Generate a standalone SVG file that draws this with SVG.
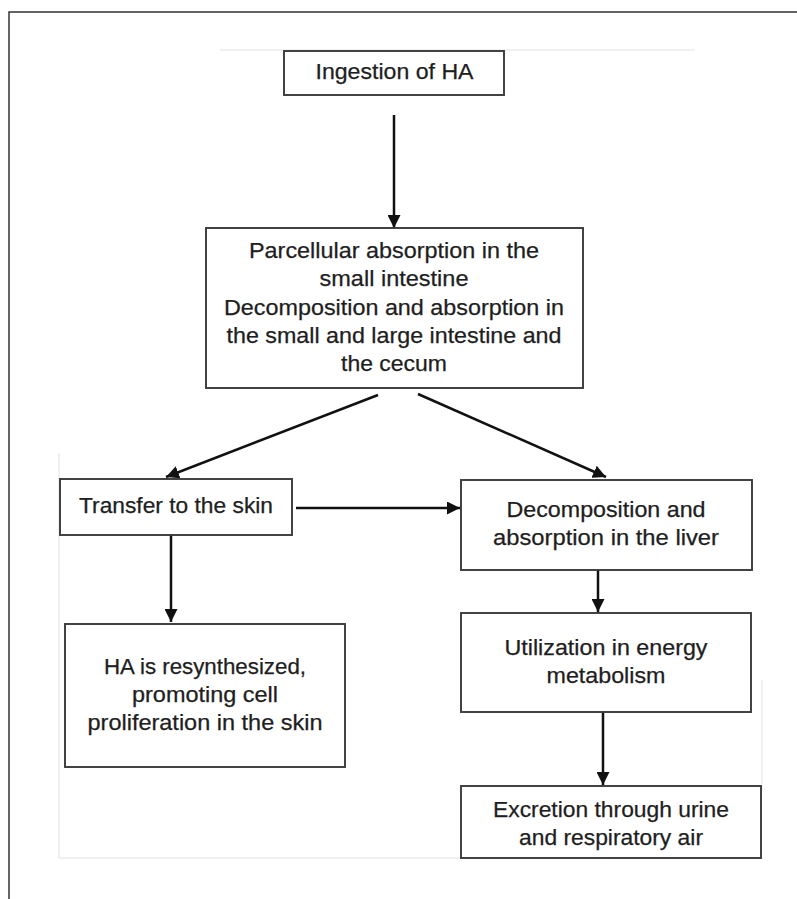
<svg xmlns="http://www.w3.org/2000/svg" width="797" height="899" viewBox="0 0 797 899">
  <style>
    .box { fill: #ffffff; stroke: #3a3a3a; stroke-width: 1.9; }
    .lbl { font-family: "Liberation Sans", Arial, sans-serif; font-size: 21.5px; fill: #1e1e1e; stroke: #1e1e1e; stroke-width: 0.25; text-anchor: middle; }
    .conn { stroke: #111111; stroke-width: 2.5; fill: none; marker-end: url(#arrow); }
    .faint { stroke: #ececec; stroke-width: 1.5; fill: none; }
  </style>
  <defs>
    <marker id="arrow" markerUnits="userSpaceOnUse" markerWidth="13" markerHeight="13" refX="13" refY="6.5" orient="auto">
      <path d="M0,0 L13,6.5 L0,13 z" fill="#111111"/>
    </marker>
  </defs>
  <rect x="0" y="0" width="797" height="899" fill="#ffffff"/>
  <path d="M9,899 V12 H797" fill="none" stroke="#333333" stroke-width="1.5"/>
  <g id="artifacts">
    <path class="faint" d="M220,50 H695"/>
    <path class="faint" d="M59,453 V858 H461"/>
    <path class="faint" d="M762,680 V790"/>
  </g>
  <g id="connectors">
    <line class="conn" x1="394" y1="115" x2="394" y2="228"/>
    <line class="conn" x1="378" y1="395" x2="166" y2="477"/>
    <line class="conn" x1="418" y1="394" x2="606" y2="477"/>
    <line class="conn" x1="296" y1="508" x2="460" y2="508"/>
    <line class="conn" x1="171" y1="535" x2="171" y2="622"/>
    <line class="conn" x1="598" y1="570" x2="598" y2="612"/>
    <line class="conn" x1="603" y1="712" x2="603" y2="785"/>
  </g>
  <g id="ingestion">
    <rect class="box" x="284" y="51" width="220" height="44"/>
    <text class="lbl" x="394.5" y="79" textLength="158" lengthAdjust="spacingAndGlyphs">Ingestion of HA</text>
  </g>
  <g id="absorption-intestine">
    <rect class="box" x="206" y="228" width="377" height="160"/>
    <text class="lbl" x="394" y="258" textLength="290" lengthAdjust="spacingAndGlyphs">Parcellular absorption in the</text>
    <text class="lbl" x="394" y="286" textLength="149" lengthAdjust="spacingAndGlyphs">small intestine</text>
    <text class="lbl" x="394" y="314.5" textLength="340" lengthAdjust="spacingAndGlyphs">Decomposition and absorption in</text>
    <text class="lbl" x="394" y="342.5" textLength="335" lengthAdjust="spacingAndGlyphs">the small and large intestine and</text>
    <text class="lbl" x="394" y="371" textLength="106" lengthAdjust="spacingAndGlyphs">the cecum</text>
  </g>
  <g id="transfer-skin">
    <rect class="box" x="60" y="479" width="232" height="56"/>
    <text class="lbl" x="176" y="513" textLength="194" lengthAdjust="spacingAndGlyphs">Transfer to the skin</text>
  </g>
  <g id="liver">
    <rect class="box" x="461" y="480" width="291" height="90"/>
    <text class="lbl" x="606" y="517" textLength="199" lengthAdjust="spacingAndGlyphs">Decomposition and</text>
    <text class="lbl" x="606" y="545" textLength="226" lengthAdjust="spacingAndGlyphs">absorption in the liver</text>
  </g>
  <g id="resynthesis">
    <rect class="box" x="65" y="624" width="280" height="143"/>
    <text class="lbl" x="205" y="674" textLength="202" lengthAdjust="spacingAndGlyphs">HA is resynthesized,</text>
    <text class="lbl" x="205" y="702" textLength="146" lengthAdjust="spacingAndGlyphs">promoting cell</text>
    <text class="lbl" x="205" y="730" textLength="235" lengthAdjust="spacingAndGlyphs">proliferation in the skin</text>
  </g>
  <g id="energy">
    <rect class="box" x="461" y="613" width="290" height="99"/>
    <text class="lbl" x="606" y="655" textLength="203" lengthAdjust="spacingAndGlyphs">Utilization in energy</text>
    <text class="lbl" x="606" y="683" textLength="119" lengthAdjust="spacingAndGlyphs">metabolism</text>
  </g>
  <g id="excretion">
    <rect class="box" x="461" y="786" width="300" height="72"/>
    <text class="lbl" x="611" y="817" textLength="236" lengthAdjust="spacingAndGlyphs">Excretion through urine</text>
    <text class="lbl" x="611" y="845" textLength="184" lengthAdjust="spacingAndGlyphs">and respiratory air</text>
  </g>
</svg>
